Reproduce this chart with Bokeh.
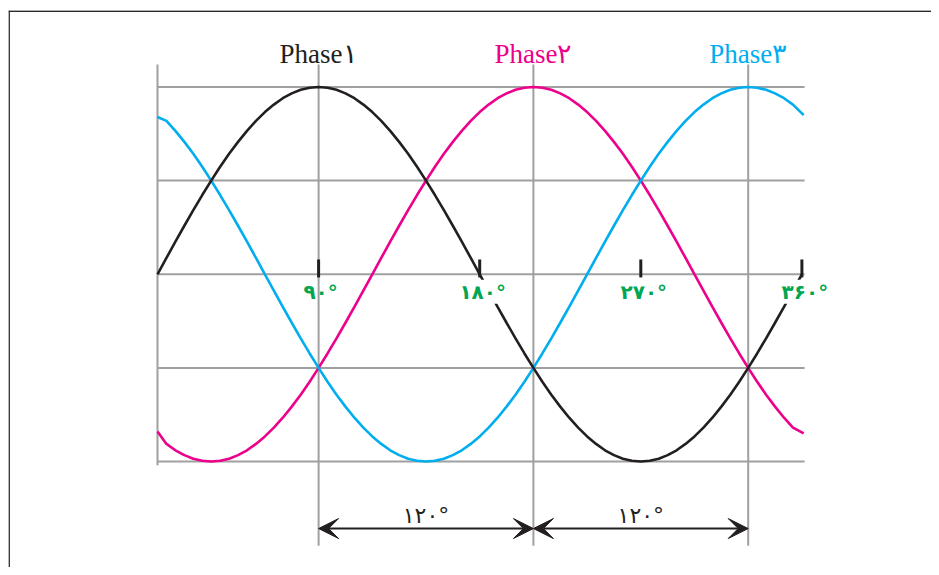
from bokeh.plotting import figure
from bokeh.models import Range1d, ColumnDataSource, LabelSet, Arrow, VeeHead, Span
from bokeh.core.properties import value
from bokeh.embed import file_html
from bokeh.resources import INLINE

# ---- data (degrees / per-unit amplitude) ----
deg_black = [0, 5, 10, 15, 20, 25, 30, 35, 40, 45, 50, 55, 60, 65, 70, 75, 80, 85, 90,
             95, 100, 105, 110, 115, 120, 125, 130, 135, 140, 145, 150, 155, 160, 165, 170, 175, 180,
             185, 190, 195, 200, 205, 210, 215, 220, 225, 230, 235, 240, 245, 250, 255, 260, 265, 270,
             275, 280, 285, 290, 295, 300, 305, 310, 315, 320, 325, 330, 335, 340, 345, 350, 355, 360]
phase1 = [0.0, 0.087, 0.174, 0.259, 0.342, 0.423, 0.5, 0.574, 0.643, 0.707, 0.766, 0.819, 0.866,
          0.906, 0.94, 0.966, 0.985, 0.996, 1.0,
          0.996, 0.985, 0.966, 0.94, 0.906, 0.866, 0.819, 0.766, 0.707, 0.643, 0.574, 0.5,
          0.423, 0.342, 0.259, 0.174, 0.087, 0.0,
          -0.087, -0.174, -0.259, -0.342, -0.423, -0.5, -0.574, -0.643, -0.707, -0.766, -0.819,
          -0.866, -0.906, -0.94, -0.966, -0.985, -0.996, -1.0,
          -0.996, -0.985, -0.966, -0.94, -0.906, -0.866, -0.819, -0.766, -0.707, -0.643, -0.574,
          -0.5, -0.423, -0.342, -0.259, -0.174, -0.087, 0.0]

deg_23 = [0, 5, 10, 15, 20, 25, 30, 35, 40, 45, 50, 55, 60, 65, 70, 75, 80, 85, 90,
          95, 100, 105, 110, 115, 120, 125, 130, 135, 140, 145, 150, 155, 160, 165, 170, 175, 180,
          185, 190, 195, 200, 205, 210, 215, 220, 225, 230, 235, 240, 245, 250, 255, 260, 265, 270,
          275, 280, 285, 290, 295, 300, 305, 310, 315, 320, 325, 330, 335, 340, 345, 350, 355, 361]
phase2 = [-0.84, -0.906, -0.94, -0.966, -0.985, -0.996, -1.0, -0.996, -0.985, -0.966, -0.94,
          -0.906, -0.866, -0.819, -0.766, -0.707, -0.643, -0.574, -0.5, -0.423, -0.342, -0.259,
          -0.174, -0.087, 0.0,
          0.087, 0.174, 0.259, 0.342, 0.423, 0.5, 0.574, 0.643, 0.707, 0.766, 0.819, 0.866,
          0.906, 0.94, 0.966, 0.985, 0.996, 1.0,
          0.996, 0.985, 0.966, 0.94, 0.906, 0.866, 0.819, 0.766, 0.707, 0.643, 0.574, 0.5,
          0.423, 0.342, 0.259, 0.174, 0.087, 0.0,
          -0.087, -0.174, -0.259, -0.342, -0.423, -0.5, -0.574, -0.643, -0.707, -0.766, -0.819,
          -0.85]
phase3 = [0.84, 0.819, 0.766, 0.707, 0.643, 0.574, 0.5, 0.423, 0.342, 0.259, 0.174, 0.087, 0.0,
          -0.087, -0.174, -0.259, -0.342, -0.423, -0.5, -0.574, -0.643, -0.707, -0.766, -0.819,
          -0.866, -0.906, -0.94, -0.966, -0.985, -0.996, -1.0,
          -0.996, -0.985, -0.966, -0.94, -0.906, -0.866, -0.819, -0.766, -0.707, -0.643, -0.574,
          -0.5, -0.423, -0.342, -0.259, -0.174, -0.087, 0.0,
          0.087, 0.174, 0.259, 0.342, 0.423, 0.5, 0.574, 0.643, 0.707, 0.766, 0.819, 0.866,
          0.906, 0.94, 0.966, 0.985, 0.996, 1.0,
          0.996, 0.985, 0.966, 0.94, 0.906, 0.85]

grid_levels = [1.0, 0.5, 0.0, -0.5, -1.0]
grid_x_end = 361.5
axis_top = 1.12
axis_bottom = -1.02
peak_degs = [90, 210, 330]
peak_bottom = -1.45
phase_names = ["Phase۱", "Phase۲", "Phase۳"]

tick_degs = [90, 180, 270, 360]
tick_labels = ["۹۰°", "۱۸۰°", "۲۷۰°", "۳۶۰°"]

arrow_starts = [90, 210]
arrow_ends = [210, 330]
arrow_texts = ["۱۲۰°", "۱۲۰°"]
arrow_level = -1.358

C_BLACK = "#231f20"
C_PINK = "#ec008c"
C_BLUE = "#00aeef"
C_GRID = "#a0a0a0"
C_GREEN = "#00a651"

X0, X1 = -83.24, 432.4
Y0, Y1 = -1.566, 1.4085

p = figure(width=931, height=567, output_backend="svg", toolbar_location=None,
           x_axis_type=None, y_axis_type=None,
           x_range=Range1d(X0, X1), y_range=Range1d(Y0, Y1),
           min_border_left=8, min_border_right=0, min_border_top=10, min_border_bottom=0)
p.outline_line_color = None
p.background_fill_color = "white"
p.border_fill_color = "white"

# page frame: left and top edges
p.add_layout(Span(location=X0 + 0.35, dimension="height", line_color="#2a2a2a", line_width=1.6))
p.add_layout(Span(location=Y1 - 0.0035, dimension="width", line_color="#2a2a2a", line_width=1.6))

# horizontal grid lines
p.segment(x0=[0] * len(grid_levels), x1=[grid_x_end] * len(grid_levels),
          y0=grid_levels, y1=grid_levels, line_color=C_GRID, line_width=2)
# left axis line
p.segment(x0=[0], x1=[0], y0=[axis_bottom], y1=[axis_top], line_color=C_GRID, line_width=2)
# vertical lines at phase peaks
p.segment(x0=peak_degs, x1=peak_degs, y0=[peak_bottom] * 3, y1=[axis_top] * 3,
          line_color=C_GRID, line_width=2)

# curves
p.line(deg_23, phase2, line_color=C_PINK, line_width=2.6)
p.line(deg_23, phase3, line_color=C_BLUE, line_width=2.6)
p.line(deg_black, phase1, line_color=C_BLACK, line_width=2.6)

# tick marks on zero line
p.segment(x0=tick_degs, x1=tick_degs, y0=[-0.017] * 4, y1=[0.079] * 4,
          line_color=C_BLACK, line_width=3)

# phase names
name_src = ColumnDataSource(dict(x=peak_degs, y=[1.13] * 3, text=phase_names,
                                 color=[C_BLACK, C_PINK, C_BLUE]))
p.add_layout(LabelSet(x="x", y="y", text="text", source=name_src, text_color="color",
                      text_font=value("Liberation Serif"), text_font_size="27px",
                      text_align="center", text_baseline="alphabetic"))

# tick labels (first without knock-out, rest with white background)
t1 = ColumnDataSource(dict(x=tick_degs[:1], y=[-0.03], text=tick_labels[:1]))
t2 = ColumnDataSource(dict(x=tick_degs[1:], y=[-0.03] * 3, text=tick_labels[1:]))
p.add_layout(LabelSet(x="x", y="y", text="text", source=t1, text_color=C_GREEN,
                      text_font=value("DejaVu Sans"), text_font_size="20px", text_font_style="bold",
                      text_align="center", text_baseline="top", x_offset=2))
p.add_layout(LabelSet(x="x", y="y", text="text", source=t2, text_color=C_GREEN,
                      text_font=value("DejaVu Sans"), text_font_size="20px", text_font_style="bold",
                      text_align="center", text_baseline="top", x_offset=3,
                      background_fill_color="white"))

# 120° arrows
for a0, a1 in zip(arrow_starts, arrow_ends):
    p.add_layout(Arrow(x_start=a0, x_end=a1, y_start=arrow_level, y_end=arrow_level,
                       line_color=C_BLACK, line_width=2,
                       start=VeeHead(size=20, fill_color=C_BLACK, line_color=C_BLACK),
                       end=VeeHead(size=20, fill_color=C_BLACK, line_color=C_BLACK)))
mid = [(a0 + a1) / 2 for a0, a1 in zip(arrow_starts, arrow_ends)]
a_src = ColumnDataSource(dict(x=mid, y=[-1.326] * 2, text=arrow_texts))
p.add_layout(LabelSet(x="x", y="y", text="text", source=a_src, text_color=C_BLACK,
                      text_font=value("DejaVu Sans"), text_font_size="22px",
                      text_align="center", text_baseline="alphabetic"))

open("out.html", "w").write(file_html(p, INLINE))
